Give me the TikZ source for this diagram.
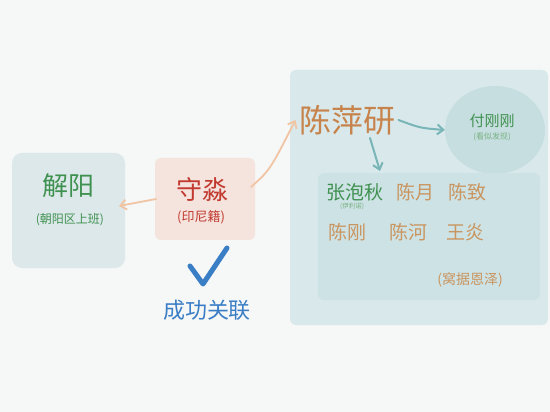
\documentclass[tikz,border=0pt]{standalone}
\usepackage{fontspec}
\newfontfamily\cjk{Noto Sans CJK SC}
\usetikzlibrary{arrows.meta,shapes.geometric}

\definecolor{paper}{HTML}{F6F7F7}
\definecolor{boxgrey}{HTML}{DCE8EA}
\definecolor{boxpink}{HTML}{F4E4DD}
\definecolor{boxblue}{HTML}{D9E9EB}
\definecolor{innerblue}{HTML}{CDE2E4}
\definecolor{blobblue}{HTML}{C6DEDF}
\definecolor{namegreen}{HTML}{3F9150}
\definecolor{namered}{HTML}{C23A30}
\definecolor{namebrown}{HTML}{C7834C}
\definecolor{nameorange}{HTML}{C99560}
\definecolor{peach}{HTML}{F1C5A4}
\definecolor{teal}{HTML}{78B5B7}
\definecolor{okblue}{HTML}{3A7EC6}

\tikzset{
  bigname/.style={font=\cjk\fontsize{26}{28}\selectfont},
  midname/.style={font=\cjk\fontsize{19}{21}\selectfont, text=nameorange},
  note/.style={font=\cjk\fontsize{12}{13}\selectfont},
  peacharrow/.style={draw=peach, line width=1.8pt, line cap=round, -{Straight Barb[length=6pt,width=10pt]}},
  tealarrow/.style={draw=teal, line width=2pt, line cap=round, -{Straight Barb[length=6pt,width=10pt]}}
}

\begin{document}
\begin{tikzpicture}[x=1pt,y=-1pt]
% Paper
\fill[paper] (0,0) rectangle (550,412);
\useasboundingbox (0,0) rectangle (550,412);

% Left box - workplace
\fill[boxgrey, rounded corners=10pt] (12,153) rectangle (125,268);
\node[bigname, text=namegreen] (xieyang) at (68,186) {解阳};
\node[note, text=namegreen] (xieyangnote) at (70,220) {(朝阳区上班)};
\coordinate (leftin) at (119,206);

% Centre box - the person
\fill[boxpink, rounded corners=6pt] (155,158) rectangle (255,240);
\node[bigname, text=namered] (shoumiao) at (202,190) {守淼};
\node[note, text=namered, font=\cjk\fontsize{13}{14}\selectfont] (shoumiaonote) at (201,217) {(印尼籍)};
\coordinate (midleft) at (156,199);
\coordinate (midright) at (251,187);

% Right box - relatives
\fill[boxblue, rounded corners=6pt] (290,70) rectangle (548,325);
\node[font=\cjk\fontsize{32}{34}\selectfont, text=namebrown] (chen) at (347,120) {陈萍研};

% Blob with 付刚刚
\node[ellipse, fill=blobblue, minimum width=100pt, minimum height=88pt] (blob) at (495,130) {};
\node[font=\cjk\fontsize{15}{16}\selectfont, text=namegreen] (fu) at (492,121) {付刚刚};
\node[note, text=namegreen!70, font=\cjk\fontsize{8}{9}\selectfont] (funote) at (492,137) {(看似发现)};

% Inner box with names
\fill[innerblue, rounded corners=6pt] (318,173) rectangle (540,300);
\coordinate (innertop) at (380,171);
\coordinate (chenbottom) at (370,138);
\node[midname, text=namegreen] (zhang) at (355,192) {张泡秋};
\node[note, text=namegreen!70, font=\cjk\fontsize{6.5}{7}\selectfont] (zhangnote) at (352,206) {(伊利诺)};
\node[midname] (chenyue) at (415,192) {陈月};
\node[midname] (chenzhi) at (467,192) {陈致};
\node[midname] (chengang) at (347,232) {陈刚};
\node[midname] (chenhe) at (408,232) {陈河};
\node[midname] (wangyan) at (465,232) {王炎};
\node[midname, font=\cjk\fontsize{14}{15}\selectfont] (enze) at (470,280) {(窝据恩泽)};

% Arrows
\draw[peacharrow] (midleft) -- (leftin);
\draw[peacharrow] (midright) .. controls (270,170) .. (chen.west);
\draw[tealarrow] (chen.east) .. controls (420,128) .. (blob.west);
\draw[tealarrow] (chenbottom) -- (innertop);

% Check mark and label
\draw[okblue, line width=5pt, line cap=round, line join=round] (190,266) -- (203,284) -- (227,248);
\node[font=\cjk\fontsize{22}{24}\selectfont, text=okblue] (ok) at (207,310) {成功关联};
\end{tikzpicture}
\end{document}
